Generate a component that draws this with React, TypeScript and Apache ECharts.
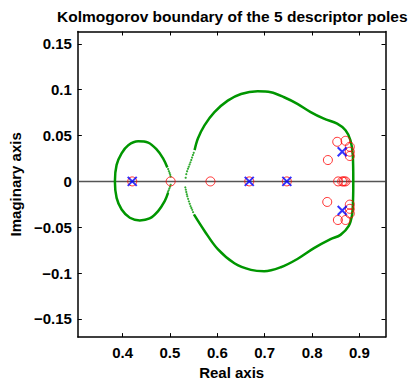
import React, { useEffect, useRef } from "react";
import * as echarts from "echarts";

const title = "Kolmogorov boundary of the 5 descriptor poles";
const xTicks = [0.4, 0.5, 0.6, 0.7, 0.8, 0.9];
const yTicks = [-0.15, -0.1, -0.05, 0, 0.05, 0.1, 0.15];
const xMin = 0.3056;
const xMax = 0.955;
const yMin = -0.1698;
const yMax = 0.1635;

// Left loop of the boundary (solid part)
const leftLoop: [number, number][] = [
  [0.4945, 0.0151], [0.4855, 0.0252], [0.4714, 0.0352], [0.454, 0.0424],
  [0.433, 0.0438], [0.412, 0.0395], [0.3979, 0.0306], [0.3874, 0.018],
  [0.3838, 0], [0.3874, -0.018], [0.398, -0.0306], [0.4153, -0.0396],
  [0.4363, -0.0425], [0.457, -0.0404], [0.475, -0.0324], [0.4889, -0.0216],
  [0.496, -0.0126],
];
// Left loop, sparse dotted part near the real axis
const leftDots: [number, number][] = [
  [0.4962, 0.0135], [0.4978, 0.0112], [0.4993, 0.0092], [0.5005, 0.0072], [0.5015, 0.0052],
  [0.5015, -0.0037], [0.5002, -0.0058], [0.4987, -0.0078], [0.4972, -0.0098], [0.4958, -0.0115],
];
// Right loop of the boundary (solid part)
const rightLoop: [number, number][] = [
  [0.552, 0.0341], [0.559, 0.0468], [0.5729, 0.0611], [0.5939, 0.0756],
  [0.622, 0.0881], [0.65, 0.0954], [0.685, 0.0983], [0.713, 0.0972],
  [0.741, 0.0918], [0.769, 0.0846], [0.797, 0.0756], [0.825, 0.0684],
  [0.853, 0.063], [0.8706, 0.0557], [0.881, 0.0449], [0.886, 0.0287],
  [0.887, 0], [0.8865, -0.02], [0.8846, -0.036], [0.8775, -0.0486],
  [0.86, -0.0583], [0.839, -0.063], [0.804, -0.0728], [0.769, -0.0846],
  [0.734, -0.0936], [0.699, -0.098], [0.671, -0.0965], [0.636, -0.0893],
  [0.601, -0.0739], [0.573, -0.054], [0.5506, -0.036],
];
// Right loop, sparse dotted part near the real axis
const rightDots: [number, number][] = [
  [0.5502, 0.0312], [0.5485, 0.0288], [0.5467, 0.026], [0.545, 0.0233], [0.5432, 0.0208],
  [0.5415, 0.0185], [0.5397, 0.016], [0.538, 0.0138], [0.5362, 0.011], [0.5345, 0.0079],
  [0.5332, 0.004], [0.5324, -0.0065], [0.5335, -0.009], [0.5345, -0.0115], [0.5356, -0.014],
  [0.5366, -0.0162], [0.5383, -0.019], [0.54, -0.0218], [0.5418, -0.0244], [0.5435, -0.027],
  [0.5452, -0.029], [0.547, -0.031], [0.5488, -0.0335],
];
// Zeros (red circles)
const zerosRe = [
  0.4204, 0.5015, 0.5855, 0.6674, 0.7467,
  0.8334, 0.8531, 0.8706, 0.8797, 0.8797, 0.8797,
  0.855, 0.8635, 0.867, 0.8706,
  0.832, 0.8797, 0.8797, 0.8797, 0.8545, 0.8706,
];
const zerosIm = [
  0, 0, 0, 0, 0,
  0.0233, 0.0432, 0.0443, 0.0378, 0.0324, 0.0277,
  0, 0, 0, 0,
  -0.0224, -0.0253, -0.0299, -0.035, -0.0421, -0.0421,
];
// Descriptor poles (blue crosses)
const polesRe = [0.4204, 0.6674, 0.7467, 0.8636, 0.8636];
const polesIm = [0, 0, 0, 0.0324, -0.0318];

const FONT = "'Liberation Sans', Arial, Helvetica, sans-serif";
const GREEN = "#009600";

export default function App() {
  const ref = useRef<HTMLDivElement>(null);
  useEffect(() => {
    if (!ref.current) return;
    const chart = echarts.init(ref.current, null, { renderer: "svg" });
    const fmt = (v: number) => {
      const s = String(Math.round(v * 100) / 100);
      return s.startsWith("-") ? "\u2212" + s.slice(1) : s;
    };
    const labelStyle = { fontFamily: FONT, fontWeight: "bold" as const, fontSize: 15, color: "#000" };
    const lineStyle = { color: "#000", width: 1.5 };
    chart.setOption({
      animation: false,
      title: {
        text: title,
        left: 52,
        top: 3,
        textStyle: { fontFamily: FONT, fontWeight: "bold", fontSize: 15.5, color: "#000" },
      },
      grid: { left: 76, right: 23.5, top: 31.5, bottom: 45, containLabel: false },
      xAxis: [
        {
          type: "value", min: xMin, max: xMax, position: "bottom",
          name: "Real axis", nameLocation: "middle", nameGap: 23,
          nameTextStyle: labelStyle,
          axisLine: { show: true, onZero: false, lineStyle },
          axisTick: { show: true, inside: true, length: 4, customValues: xTicks, lineStyle: { color: "#000", width: 1 } },
          axisLabel: { show: true, margin: 8, customValues: xTicks, formatter: fmt, ...labelStyle },
          splitLine: { show: false },
        },
        {
          type: "value", min: xMin, max: xMax, position: "top",
          axisLine: { show: true, onZero: false, lineStyle },
          axisTick: { show: true, inside: true, length: 4, customValues: xTicks, lineStyle: { color: "#000", width: 1 } },
          axisLabel: { show: false },
          splitLine: { show: false },
        },
      ],
      yAxis: [
        {
          type: "value", min: yMin, max: yMax, position: "left",
          name: "Imaginary axis", nameLocation: "middle", nameGap: 27,
          nameTextStyle: labelStyle,
          axisLine: { show: true, onZero: false, lineStyle },
          axisTick: { show: true, inside: true, length: 4, customValues: yTicks, lineStyle: { color: "#000", width: 1 } },
          axisLabel: { show: true, margin: 6, customValues: yTicks, formatter: fmt, ...labelStyle },
          splitLine: { show: false },
        },
        {
          type: "value", min: yMin, max: yMax, position: "right",
          axisLine: { show: true, onZero: false, lineStyle },
          axisTick: { show: true, inside: true, length: 4, customValues: yTicks, lineStyle: { color: "#000", width: 1 } },
          axisLabel: { show: false },
          splitLine: { show: false },
        },
      ],
      series: [
        {
          type: "line", data: [[xMin, 0], [xMax, 0]], symbol: "none", silent: true,
          lineStyle: { color: "#555", width: 1.5 }, z: 1,
        },
        {
          type: "line", data: leftLoop, smooth: 0.35, symbol: "none",
          lineStyle: { color: GREEN, width: 2.5 }, z: 2,
        },
        {
          type: "line", data: rightLoop, smooth: 0.35, symbol: "none",
          lineStyle: { color: GREEN, width: 2.5 }, z: 2,
        },
        {
          type: "scatter", data: [...leftDots, ...rightDots], symbol: "circle", symbolSize: 2.2,
          itemStyle: { color: GREEN }, z: 2,
        },
        {
          type: "scatter", data: zerosRe.map((x, i) => [x, zerosIm[i]]), symbol: "circle", symbolSize: 9,
          itemStyle: { color: "none", borderColor: "#ff0000", borderWidth: 1 }, z: 3,
        },
        {
          type: "scatter", data: polesRe.map((x, i) => [x, polesIm[i]]),
          symbol: "path://M0,0L10,10M10,0L0,10", symbolSize: 9,
          itemStyle: { color: "none", borderColor: "#0000ff", borderWidth: 2 }, z: 4,
        },
      ],
    });
    return () => chart.dispose();
  }, []);
  return <div ref={ref} style={{ width: 409, height: 385, position: "absolute", left: 0, top: 0 }} />;
}
